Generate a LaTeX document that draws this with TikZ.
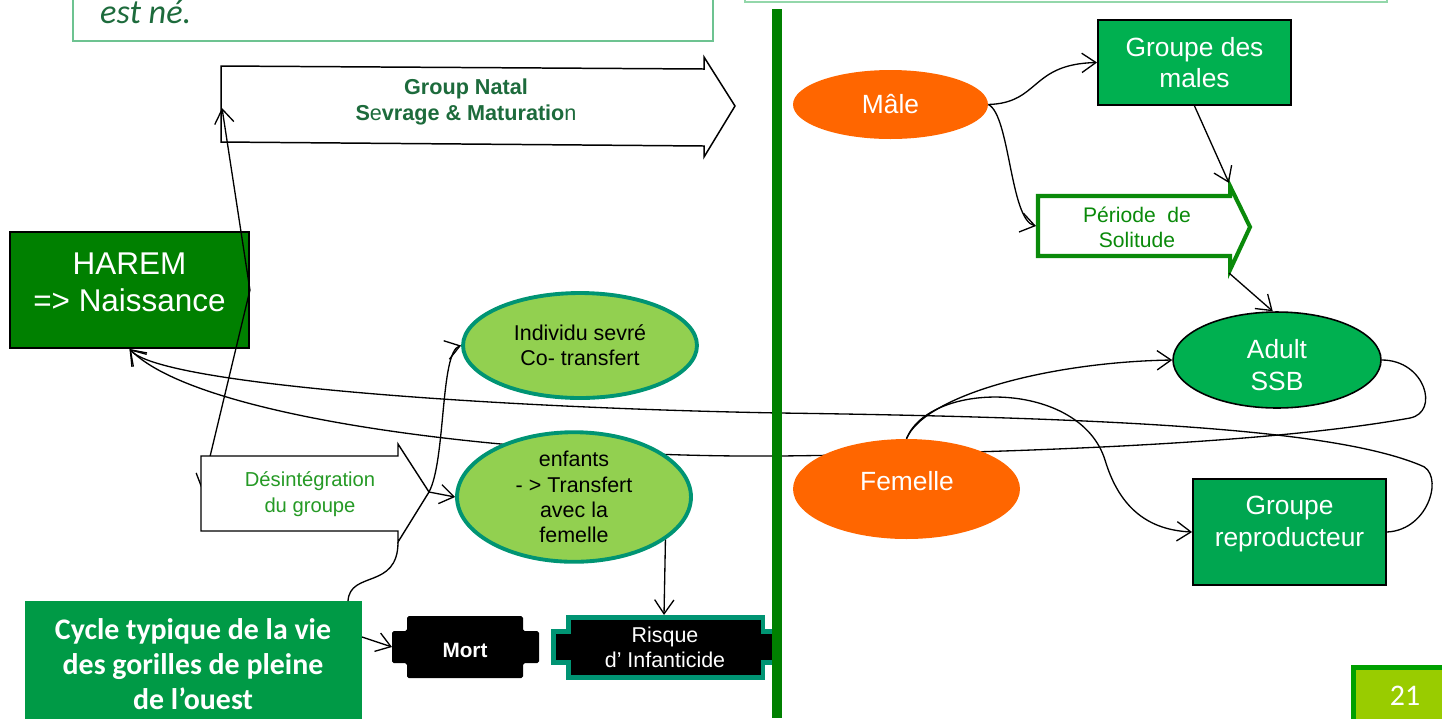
\documentclass[tikz,border=0pt]{standalone}
\usepackage{fontspec}
\setmainfont{Liberation Sans}
\newfontfamily\calibri{Carlito}
\usetikzlibrary{shapes.geometric,arrows.meta}

\definecolor{haremgreen}{HTML}{008000}
\definecolor{boxgreen}{HTML}{00B050}
\definecolor{reprogreen}{HTML}{00A650}
\definecolor{cyclegreen}{HTML}{009A46}
\definecolor{malorange}{HTML}{FF6600}
\definecolor{limegreen}{HTML}{92D050}
\definecolor{tealrim}{HTML}{009473}
\definecolor{darktxt}{HTML}{1D6B3C}
\definecolor{midtxt}{HTML}{259A25}
\definecolor{solitgreen}{HTML}{0A8A0A}
\definecolor{framegreen}{HTML}{6DC391}
\definecolor{framegreenb}{HTML}{93D7AA}
\definecolor{pagegreen}{HTML}{99CC00}
\definecolor{pagerim}{HTML}{00A000}

\tikzset{
  link/.style={line width=0.75pt, -{Straight Barb[length=8pt,width=11pt]}},
  wire/.style={line width=0.75pt},
  txt/.style={inner sep=0pt, align=center},
  sq/.style={draw=black, line width=1.1pt, inner sep=0pt, align=center},
  oval/.style={ellipse, inner sep=0pt, align=center},
  lime/.style={oval, fill=limegreen, draw=tealrim, line width=2.2pt, font=\fontsize{12.2}{14.4}\selectfont},
  bigw/.style={text=white, font=\fontsize{15}{18}\selectfont},
}

\begin{document}
\begin{tikzpicture}[x=0.02cm, y=-0.02cm]
	\useasboundingbox (0,0) rectangle (1442,718);
	\clip (0,0) rectangle (1442,718);
	%% frames of the upper text boxes
	\draw[framegreen, line width=1.1pt] (73,-20) rectangle (713,41);
	\node[anchor=base west, text=darktxt, font=\calibri\itshape\fontsize{19.5}{22}\selectfont] (bornnote) at (94,23) {est né.};
	\draw[framegreenb, line width=1.1pt] (745,-20) rectangle (1387,2);
	% points on the drawn arrows
	\coordinate (natal-in) at (222,108);
	\coordinate (desint-in) at (202,490);
	\coordinate (desint-tip) at (429,492);
	\coordinate (desint-low) at (398,542);
	\coordinate (cycle-top) at (348,601);
	\coordinate (cycle-out) at (362,637);
	\coordinate (mort-in) at (392,647);
	\coordinate (risque-top) at (664,615);
	\coordinate (solit-in) at (1036,226);
	\coordinate (solit-head) at (1229,183);
	\coordinate (solit-low) at (1229,273);
	%% harem
	\node[sq, fill=haremgreen, minimum width=4.78cm, minimum height=2.32cm] (harem) at (129.5,290) {};
	\node[txt, text=white, font=\fontsize{17.9}{21}\selectfont] (harem-txt) at (129.5,282) {HAREM\\=> Naissance};
	% group natal
	\filldraw[fill=white, draw=black, line width=0.85pt] (221,66) -- (704,69) -- (704,57) -- (735,106) -- (704,157) -- (704,146) -- (221,142) -- cycle;
	\node[txt, text=darktxt, font=\bfseries\fontsize{12.3}{14.7}\selectfont] (natal) at (466,102) {Group Natal\\S{\mdseries e}vrage \& Maturatio{\mdseries n}};
	\draw[link] (harem.east) -- (natal-in);
	\draw[link] (harem.east) -- (desint-in);
	% desintegration
	\filldraw[fill=white, draw=black, line width=0.8pt] (201,456) -- (398,456) -- (398,444) -- (desint-tip) -- (desint-low) -- (398,531) -- (201,531) -- cycle;
	\node[txt, text=midtxt, font=\fontsize{11.5}{14.7}\selectfont] (desint) at (310,494) {Désintégration\\du groupe};
	%% right side
	\node[oval, fill=boxgreen, draw=black, line width=0.9pt, minimum width=4.16cm, minimum height=1.92cm] (adult) at (1277,360) {};
	\node[txt, bigw] (adult-txt) at (1277,365) {Adult\\SSB};
	\node[sq, fill=reprogreen, minimum width=3.86cm, minimum height=2.12cm] (repro) at (1289.5,532) {};
	\node[txt, bigw] (repro-txt) at (1289.5,524) {Groupe\\reproducteur};
	% back to the harem
	\draw[link] (repro.east) .. controls (1430,530) and (1445,472) .. (1420,465) .. controls (1340,432) and (1150,418) .. (780,413) .. controls (500,408) and (160,385) .. (harem.south);
	\draw[link] (adult.east) .. controls (1425,360) and (1440,412) .. (1410,418) .. controls (1300,438) and (1100,452) .. (780,456) .. controls (520,458) and (200,420) .. (harem.south);
	% weaned ones
	\node[lime, minimum width=4.68cm, minimum height=2.1cm] (individu) at (580,345.5) {Individu sevré\\Co- transfert};
	\node[lime, minimum width=4.68cm, minimum height=2.24cm] (enfants) at (574,497) {enfants\\- > Transfert\\avec la\\femelle};
	% male and female
	\node[oval, fill=malorange, minimum width=3.9cm, minimum height=1.38cm, bigw] (male) at (890.5,104.5) {Mâle};
	\node[oval, fill=malorange, minimum width=4.54cm, minimum height=2cm] (femelle) at (906.5,489) {};
	\node[txt, bigw] (femelle-txt) at (907,481) {Femelle};
	\node[sq, fill=boxgreen, minimum width=3.86cm, minimum height=1.7cm, bigw] (gmales) at (1194.5,62.5) {Groupe des\\males};
	\filldraw[fill=white, draw=solitgreen, line width=2.3pt] (1038,196) -- (1230,196) -- (1230,186) -- (1250,227) -- (1230,270) -- (1230,256) -- (1038,256) -- cycle;
	\node[txt, text=solitgreen, font=\fontsize{12}{14.2}\selectfont] (solit) at (1137,227) {Période\ \ de\\Solitude};
	%% death and infanticide
	\fill[black, rounded corners=1pt] (407,616) -- (523,616) -- (523,631) -- (539,631) -- (539,663) -- (523,663) -- (523,678) -- (407,678) -- (407,663) -- (392,663) -- (392,631) -- (407,631) -- cycle;
	\node[txt, text=white, font=\bfseries\fontsize{11.8}{14}\selectfont] (mort) at (465,650.5) {Mort};
	\filldraw[fill=black, draw=tealrim, line width=2.8pt] (568.5,617.5) -- (763,617.5) -- (763,631.5) -- (777,631.5) -- (777,662.5) -- (763,662.5) -- (763,677.5) -- (568.5,677.5) -- (568.5,662.5) -- (553.5,662.5) -- (553.5,631.5) -- (568.5,631.5) -- cycle;
	\node[txt, text=white, font=\fontsize{12.2}{14.5}\selectfont] (risque) at (665,647.5) {Risque\\d’ Infanticide};
	% title box
	\node[sq, draw=none, fill=cyclegreen, minimum width=6.74cm, minimum height=3.2cm] (cycle) at (193.5,681) {};
	\node[txt, text=white, font=\calibri\bfseries\fontsize{17}{19.8}\selectfont] (cycle-txt) at (193,664) {Cycle typique de la vie\\des gorilles de pleine\\de l’ouest};
	%% remaining links
	\draw[link] (desint-tip) -- (enfants.west);
	\draw[link] (desint-tip) .. controls (446,460) and (440,352) .. (individu.west);
	\draw[wire] (cycle-top) .. controls (350,570) and (398,590) .. (desint-low);
	\draw[link] (cycle-out) -- (mort-in);
	\draw[link] (enfants.-25.5) -- (risque-top);
	\draw[link] (male.east) .. controls (1040,103) and (1030,64) .. (gmales.west);
	\draw[link] (male.east) .. controls (1010,115) and (1010,220) .. (solit-in);
	\draw[link] (gmales.south) -- (solit-head);
	\draw[link] (solit-low) -- (adult.95);
	\draw[link] (femelle.north) .. controls (925,395) and (1050,362) .. (adult.west);
	\draw[link] (femelle.north) .. controls (930,380) and (1080,380) .. (1105,460) .. controls (1120,510) and (1150,530) .. (repro.west);
	% divider
	\fill[haremgreen] (772,9) rectangle (782,718);
	% page number
	\filldraw[fill=pagegreen, draw=pagerim, line width=2.8pt] (1353.5,667.5) rectangle (1460,740);
	\node[txt, anchor=base, text=white, font=\calibri\fontsize{17}{19}\selectfont] (pagenum) at (1405,705) {21};
\end{tikzpicture}
\end{document}
